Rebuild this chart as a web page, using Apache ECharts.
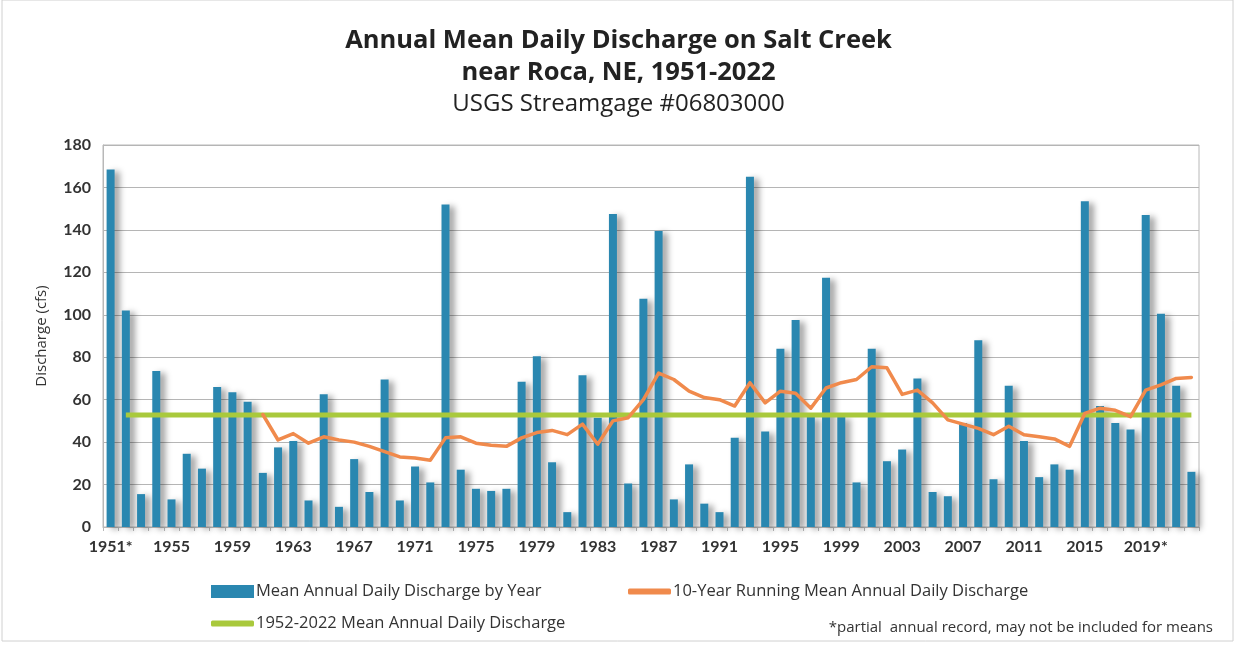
<!DOCTYPE html>
<html>
<head>
<meta charset="utf-8">
<script src="https://cdn.jsdelivr.net/npm/echarts@6/dist/echarts.min.js"></script>
<style>
  html, body { margin: 0; padding: 0; background: #fff; }
  #chart { width: 1237px; height: 645px; }
</style>
</head>
<body>
<div id="chart"></div>
<script>
// ---------- data ----------
const categories = [
  '1951*','1952','1953','1954','1955','1956','1957','1958','1959','1960',
  '1961','1962','1963','1964','1965','1966','1967','1968','1969','1970',
  '1971','1972','1973','1974','1975','1976','1977','1978','1979','1980',
  '1981','1982','1983','1984','1985','1986','1987','1988','1989','1990',
  '1991','1992','1993','1994','1995','1996','1997','1998','1999','2000',
  '2001','2002','2003','2004','2005','2006','2007','2008','2009','2010',
  '2011','2012','2013','2014','2015','2016','2017','2018','2019*','2020',
  '2021','2022'
];

// Mean annual daily discharge by year (cfs)
const annualDischarge = [
  168.5, 102, 15.5, 73.5, 13, 34.5, 27.5, 66, 63.5, 59,
  25.5, 37.5, 40.5, 12.5, 62.5, 9.5, 32, 16.5, 69.5, 12.5,
  28.5, 21, 152, 27, 18, 17, 18, 68.5, 80.5, 30.5,
  7, 71.5, 51.5, 147.5, 20.5, 107.5, 139.5, 13, 29.5, 11,
  7, 42, 165, 45, 84, 97.5, 52, 117.5, 52, 21,
  84, 31, 36.5, 70, 16.5, 14.5, 49, 88, 22.5, 66.5,
  40.5, 23.5, 29.5, 27, 153.5, 57, 49, 46, 147, 100.5,
  66.5, 26
];

// 10-year running mean (cfs)
const runningMean = [
  null, null, null, null, null, null, null, null, null, null,
  53, 41, 44, 39.5, 42.5, 41, 40, 38, 35.5, 33,
  32.5, 31.5, 42, 42.5, 39.5, 38.5, 38, 42, 44.5, 45.5,
  43.5, 48.5, 39, 50, 51.5, 60, 72.5, 69.5, 64, 61,
  60, 57, 68, 58.5, 64, 63, 56, 65.5, 68, 69.5,
  75.5, 75, 62.5, 64.5, 58.5, 50.5, 48.5, 46.5, 43.5, 47.5,
  43.5, 42.5, 41.5, 38, 53.5, 56, 55, 52, 64.5, 67,
  70, 70.5
];

// 1952-2022 mean (cfs), drawn from first to last year of the period
const periodMean = [['1952', 52.8], ['2022', 52.8]];

const yTicks = { min: 0, max: 180, interval: 20 };

const titleLines = ['Annual Mean Daily Discharge on Salt Creek', 'near Roca, NE, 1951-2022'];
const subTitle = 'USGS Streamgage #06803000';
const seriesNames = [
  'Mean Annual Daily Discharge by Year',
  '10-Year Running Mean Annual Daily Discharge',
  '1952-2022 Mean Annual Daily Discharge'
];
const footnote = '*partial  annual record, may not be included for means';

// ---------- chart ----------
const FONT = 'Lato, "Open Sans", sans-serif';
const TFONT = '"Open Sans", Lato, sans-serif';
const BAR = '#2a87b0';
const ORANGE = '#f08a4c';
const GREEN = '#a9c93c';

const chart = echarts.init(document.getElementById('chart'), null, { renderer: 'canvas' });

const legendText = { fontFamily: TFONT, fontSize: 16.5, color: '#333', padding: [0, 0, 0, -3] };

chart.setOption({
  backgroundColor: '#ffffff',
  animation: false,
  title: [
    { text: titleLines[0], left: 'center', top: 23, textStyle: { fontFamily: TFONT, fontSize: 25.5, fontWeight: 'bold', color: '#222' } },
    { text: titleLines[1], left: 'center', top: 55, textStyle: { fontFamily: TFONT, fontSize: 25.5, fontWeight: 'bold', color: '#222' } },
    { text: subTitle, left: 'center', top: 87, textStyle: { fontFamily: TFONT, fontSize: 24, fontWeight: 'normal', color: '#222' } }
  ],
  grid: { left: 103, right: 38, top: 145, bottom: 118, show: true, borderColor: '#b8b8b8', borderWidth: 1 },
  legend: [
    { data: [{ name: seriesNames[0], icon: 'rect' }], left: 206, top: 578, itemWidth: 43, itemHeight: 13, textStyle: legendText },
    { data: [{ name: seriesNames[1], icon: 'roundRect' }], left: 623, top: 578, itemWidth: 43, itemHeight: 6, textStyle: legendText },
    { data: [{ name: seriesNames[2], icon: 'roundRect' }], left: 206, top: 610, itemWidth: 43, itemHeight: 6, textStyle: legendText }
  ],
  graphic: [
    { type: 'rect', shape: { x: 2, y: 0, width: 1231, height: 641 }, style: { fill: 'none', stroke: '#d0d0d0', lineWidth: 1 }, silent: true },
    { type: 'text', right: 24, top: 620, style: { text: footnote, fontFamily: TFONT, fontSize: 15, fill: '#333' } }
  ],
  xAxis: {
    type: 'category',
    data: categories,
    boundaryGap: true,
    axisLine: { lineStyle: { color: '#b8b8b8' } },
    axisTick: { show: true, alignWithLabel: false, interval: 0, length: 4, lineStyle: { color: '#b8b8b8' } },
    axisLabel: { interval: 3, margin: 12, fontFamily: FONT, fontSize: 16, fontWeight: 'bold', color: '#333' },
    splitLine: { show: false }
  },
  yAxis: {
    type: 'value',
    min: yTicks.min, max: yTicks.max, interval: yTicks.interval,
    name: 'Discharge (cfs)',
    nameLocation: 'middle',
    nameGap: 54,
    nameTextStyle: { fontFamily: TFONT, fontSize: 15, color: '#333' },
    axisLine: { show: true, lineStyle: { color: '#b8b8b8' } },
    axisTick: { show: false },
    axisLabel: { margin: 12, fontFamily: FONT, fontSize: 16, fontWeight: 'bold', color: '#333' },
    splitLine: { lineStyle: { color: '#b5b5b5', width: 1 } }
  },
  series: [
    {
      name: seriesNames[0],
      type: 'bar',
      data: annualDischarge,
      barWidth: 8,
      itemStyle: { color: BAR, shadowColor: 'rgba(0,0,0,0.38)', shadowBlur: 6, shadowOffsetX: 5, shadowOffsetY: 2 },
      z: 2
    },
    {
      name: seriesNames[2],
      type: 'line',
      data: periodMean,
      symbol: 'none',
      lineStyle: { color: GREEN, width: 5 },
      itemStyle: { color: GREEN },
      z: 3
    },
    {
      name: seriesNames[1],
      type: 'line',
      data: runningMean,
      symbol: 'none',
      connectNulls: false,
      lineStyle: { color: ORANGE, width: 3.5, join: 'round', cap: 'round' },
      itemStyle: { color: ORANGE },
      z: 4
    }
  ]
});
</script>
</body>
</html>
